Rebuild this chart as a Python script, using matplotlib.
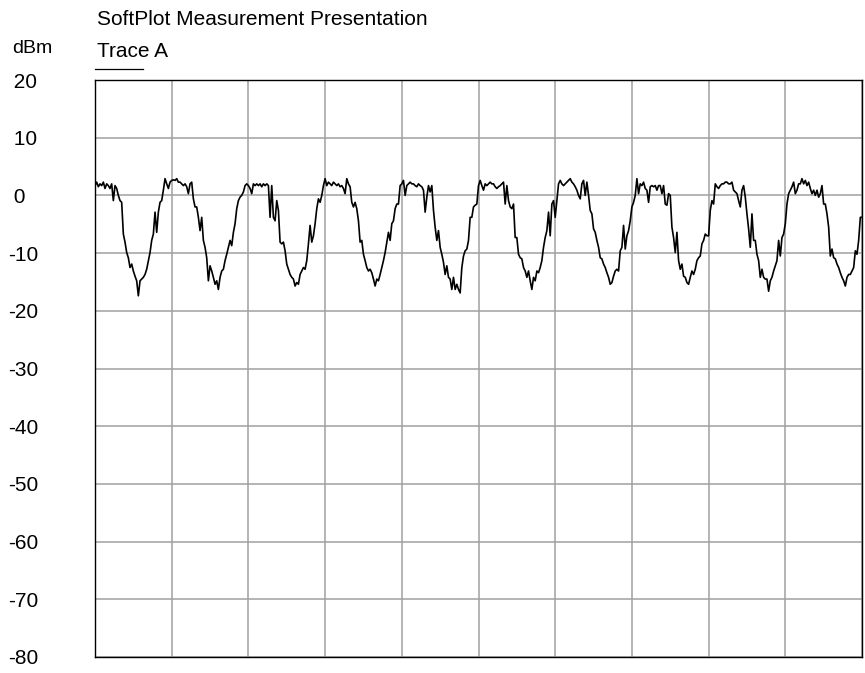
import numpy as np
import matplotlib as m
m.use('Agg')
import matplotlib.pyplot as plt
from matplotlib.lines import Line2D

# trace A samples (dBm), evenly spaced across the sweep
seg1 = [1.7, 2.3, 1.5, 2.0, 1.7, 2.3, 1.2, 2.0, 1.7, 1.2, 2.0, -0.9, 1.7, 1.2, 0.0, -0.9,
        -1.2, -6.7, -8.1, -9.9, -10.8, -12.5, -11.9, -13.1, -14.0, -14.8, -17.4, -14.8, -14.5,
        -14.2, -13.7, -12.8, -11.3, -9.9, -7.8, -6.7, -2.9, -6.4, -2.9, -1.2, -0.9, 0.9, 2.9,
        2.0, 1.2, 2.3, 2.6, 2.7, 2.6, 2.9, 2.3, 2.3, 2.0, 1.7, 2.0, 1.5, 0.3, 2.0, 2.3, -0.6,
        -2.0, -2.0, -3.8, -6.1, -3.8, -7.8, -9.0, -10.8, -14.8, -12.2, -13.1, -14.2, -15.4,
        -14.8, -16.3, -14.2, -13.1, -12.8, -11.3, -10.2, -9.0, -7.8, -8.7, -6.4, -4.9, -2.3,
        -0.9, -0.3, 0.0, 0.6, 1.7, 2.0, 1.7, 1.2, 0.3, 2.0, 1.7, 2.0, 1.7, 2.0, 1.5, 2.0, 1.7,
        2.0, 1.7, -3.8, 1.7, -3.8, -4.4, -0.9, -2.6, -8.1, -8.4, -8.1]
seg2 = [-9.6, -11.9, -12.8, -13.7, -14.2, -14.5, -15.7, -15.1, -15.4, -13.7, -13.1, -12.5,
        -12.8, -11.3, -8.4, -5.2, -8.1, -7.0, -4.9, -2.3, -0.6, -1.2, 0.0, 1.7, 2.9, 1.7, 2.3,
        2.0, 1.7, 2.3, 2.0, 1.7, 2.0, 1.5, 1.7, 1.2, 0.3, 2.9, 2.0, 1.5, -1.2, -2.0, -1.2,
        -2.3, -4.4, -8.1, -7.8, -10.2, -11.3, -12.5, -13.1, -12.8, -13.4, -14.5, -15.7, -14.5,
        -14.8, -13.7, -12.5, -11.3, -9.9, -8.1, -6.4, -7.8, -4.9, -4.4, -2.3, -1.5, -1.5, 1.7,
        2.0, 2.6, 0.0, 1.7, 2.0, 2.3, 2.0, 2.0, 1.7, 1.5, 2.0, 1.7, 1.5, 0.9, -2.9, -0.3, 1.7,
        0.6, 1.7, -2.6, -5.5, -7.8, -6.1, -9.0, -10.2, -11.6, -13.7, -12.2, -14.2, -14.5,
        -16.3, -14.2, -16.3, -15.4, -16.3, -16.9, -12.5, -10.5, -9.6, -9.3, -7.8, -3.8, -3.8,
        -2.0]
seg3 = [-1.7, -1.5, 1.7, 2.6, 1.7, 0.9, 2.0, 1.7, 2.0, 2.3, 2.0, 2.0, 1.5, 1.2, 1.5, 1.7,
        2.0, 2.3, -1.5, 1.7, -0.9, -2.0, -2.3, -1.5, -7.3, -7.3, -10.2, -10.8, -11.0, -12.5,
        -13.1, -14.2, -13.1, -14.8, -16.3, -14.2, -14.8, -13.1, -13.4, -12.5, -11.3, -9.0,
        -7.3, -6.1, -2.9, -7.0, -1.5, -0.9, -3.8, -0.9, 2.0, 2.6, 2.0, 1.7, 2.0, 2.3, 2.6, 2.9,
        2.3, 2.0, 1.5, 0.9, 0.0, -0.6, 2.0, 2.6, 0.0, 2.3, 0.0, -2.6, -3.2, -5.8, -6.4, -7.8,
        -9.0, -10.8, -11.0, -11.9, -12.5, -13.4, -14.2, -15.4, -15.1, -14.0, -13.1, -12.8,
        -13.1, -9.6, -9.0, -5.2, -9.3, -7.0, -6.1, -4.4, -2.0, -1.2, 0.0, 2.9, 0.3, 2.0, 1.7,
        2.3, 1.2, 0.9, -1.2, 1.5, 1.7, 1.5, 1.7, 0.9, 1.7, 1.7, 0.3, 1.7]
seg4 = [-1.5, -1.7, 0.3, 0.0, -5.5, -7.3, -9.9, -6.4, -11.3, -12.8, -11.9, -14.0, -14.2,
        -15.1, -15.4, -14.2, -13.1, -13.7, -12.8, -11.3, -10.8, -10.5, -8.4, -7.8, -6.7, -7.0,
        -7.0, -2.6, -0.9, -1.5, 2.0, 1.5, 1.2, 1.7, 2.0, 2.0, 2.3, 2.3, 2.0, 2.0, 2.3, 0.9,
        0.6, 0.3, -0.9, -2.0, 0.9, 1.7, -0.3, -3.2, -5.8, -9.0, -3.2, -7.8, -7.8, -10.2, -11.3,
        -14.2, -12.8, -14.2, -14.5, -14.5, -16.6, -14.8, -14.2, -13.1, -12.2, -11.3, -7.8,
        -10.5, -7.3, -6.7, -4.9, -1.5, 0.3, 0.9, 1.5, 2.3, 0.3, 0.9, 2.0, 2.0, 2.9, 2.0, 2.6,
        1.7, 2.3, 1.2, 0.3, 0.9, 0.0, 0.9, -0.3, 0.3, 1.7, -1.5, -1.5, -3.2, -5.5, -10.5, -9.3,
        -10.8, -11.0, -11.9, -12.5, -13.4, -14.2, -14.8, -15.7, -14.2, -13.7, -13.7, -13.1,
        -12.5, -9.6, -10.2, -7.8, -3.8, -3.8]
trace_a = seg1 + seg2 + seg3 + seg4

y_ticks = [-80, -70, -60, -50, -40, -30, -20, -10, 0, 10, 20]
y_labels = ['-80', '-70', '-60', '-50', '-40', '-30', '-20', '-10', ' 0', ' 10', ' 20']


def main():
  plt.rcParams['font.family'] = ['Liberation Sans', 'DejaVu Sans']
  plt.rcParams['font.size'] = 15

  W, H = 865, 673
  fig = plt.figure(figsize=(8.65, 6.73), dpi=100)
  ax = fig.add_axes([95 / W, 1 - 657 / H, 767 / W, 577 / H])

  n = len(trace_a)
  x = np.arange(n)
  ax.plot(x, trace_a, color='black', lw=1.2, zorder=3)

  ax.set_xlim(0, n - 1)
  ax.set_ylim(-80, 20)
  ax.set_xticks(np.linspace(0, n - 1, 11))
  ax.set_xticklabels([])
  ax.set_yticks(y_ticks)
  ax.set_yticklabels(y_labels)
  ax.tick_params(axis='x', length=0)
  ax.tick_params(axis='y', length=0, pad=62.6)
  for lbl in ax.get_yticklabels():
    lbl.set_horizontalalignment('left')
  ax.grid(True, color='#a0a0a0', lw=1.1)
  for s in ax.spines.values():
    s.set_color('black')
    s.set_linewidth(1.0)

  fig.text(97 / W, 1 - 25 / H, 'SoftPlot Measurement Presentation', va='baseline', ha='left')
  fig.text(97 / W, 1 - 57 / H, 'Trace A', va='baseline', ha='left')
  fig.text(12 / W, 1 - 53 / H, 'dBm', va='baseline', ha='left', fontsize=14)
  fig.add_artist(Line2D([95 / W, 143 / W], [1 - 69 / H, 1 - 69 / H], color='black', lw=0.9))

  plt.savefig('out.png', dpi=100)


if __name__ == '__main__':
  main()
